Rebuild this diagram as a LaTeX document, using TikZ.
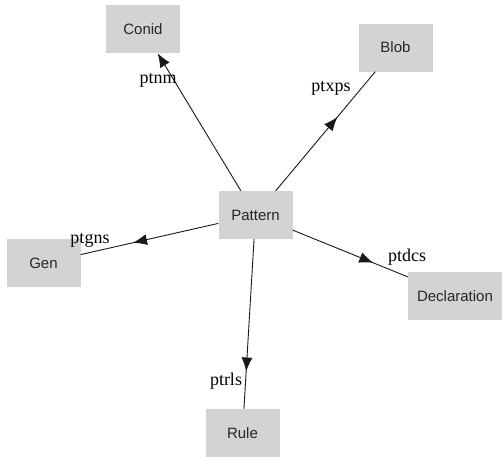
\documentclass[tikz,border=0pt]{standalone}
\usepackage{fontspec}
\setmainfont{Liberation Serif}
\setsansfont{Liberation Sans}
\usetikzlibrary{arrows.meta,decorations.markings}

\definecolor{boxgray}{RGB}{211,211,211}

\tikzset{
  box/.style={fill=boxgray, minimum width=74pt, minimum height=48pt, inner sep=0pt,
    font=\sffamily\fontsize{15}{18}\selectfont, text=black!85},
  lbl/.style={font=\fontsize{18}{20}\selectfont, inner sep=0pt},
  edge/.style={line width=0.9pt, black!90},
  midarrow/.style={postaction={decorate}, decoration={markings,
    mark=at position #1 with {\arrow{Latex[length=14pt,width=11pt]}}}}
}

\begin{document}
\begin{tikzpicture}[x=1pt,y=-1pt]
    \useasboundingbox (0,0) rectangle (504,456);

    % boxes
    \node[box] (pattern) at (255.5,215) {Pattern};
    \node[box] (conid) at (143,29) {Conid};
    \node[box] (blob) at (395.5,47.5) {Blob};
    \node[box] (gen) at (43.5,263) {Gen};
    \node[box, minimum width=94pt] (decl) at (455,296) {Declaration};
    \node[box] (rule) at (242.5,433) {Rule};

    % edges out of pattern
    \draw[edge, -{Latex[length=14pt,width=11pt]}] (pattern) -- (conid);
    \draw[edge, midarrow=0.62] (pattern) -- (blob);
    \draw[edge, midarrow=0.62] (pattern) -- (gen);
    \draw[edge, midarrow=0.70] (pattern) -- (decl);
    \draw[edge, midarrow=0.78] (pattern) -- (rule);

    % edge labels
    \node[lbl] (lnm) at (158,80) {ptnm};
    \node[lbl] (lxps) at (331,88) {ptxps};
    \node[lbl] (lgns) at (90,240) {ptgns};
    \node[lbl] (ldcs) at (407,257) {ptdcs};
    \node[lbl] (lrls) at (226,381) {ptrls};
\end{tikzpicture}
\end{document}
